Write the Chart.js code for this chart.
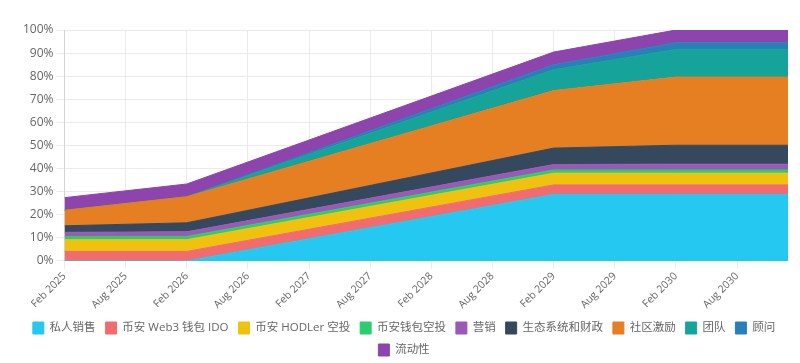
<!DOCTYPE html>
<html>
<head>
<meta charset="utf-8">
<script src="https://cdn.jsdelivr.net/npm/chart.js@4"></script>
<style>
  html, body { margin: 0; padding: 0; background: #fff; }
  #wrap { width: 800px; height: 363px; }
</style>
</head>
<body>
<div id="wrap"><canvas id="unlockChart"></canvas></div>
<script>
  // months since Feb 2025 where the schedule changes slope
  const months = [0, 12, 48, 60, 71];
  const tickLabels = ['Feb 2025', 'Aug 2025', 'Feb 2026', 'Aug 2026', 'Feb 2027', 'Aug 2027',
    'Feb 2028', 'Aug 2028', 'Feb 2029', 'Aug 2029', 'Feb 2030', 'Aug 2030'];

  // cumulative unlocked share (%) per allocation
  const privateSale = [0, 0, 28.8, 28.8, 28.8];
  const web3Ido = [4.1, 4.1, 4.1, 4.1, 4.1];
  const hodlerAirdrop = [5.1, 5.1, 5.1, 5.1, 5.1];
  const walletAirdrop = [1.4, 1.4, 1.4, 1.4, 1.4];
  const marketing = [1.8, 2.0, 2.35, 2.5, 2.5];
  const ecosystem = [2.8, 3.9, 7.1, 8.2, 8.2];
  const community = [6.7, 11.3, 24.9, 29.5, 29.5];
  const team = [0, 0, 9, 12, 12];
  const advisors = [0, 0, 2.2, 2.9, 2.9];
  const liquidity = [5.5, 5.5, 5.5, 5.5, 5.5];

  const series = [
    { label: '私人销售', values: privateSale, color: '#24C8F0' },
    { label: '币安 Web3 钱包 IDO', values: web3Ido, color: '#F26B6F' },
    { label: '币安 HODLer 空投', values: hodlerAirdrop, color: '#EEC20F' },
    { label: '币安钱包空投', values: walletAirdrop, color: '#2ECC71' },
    { label: '营销', values: marketing, color: '#9B59B6' },
    { label: '生态系统和财政', values: ecosystem, color: '#34495E' },
    { label: '社区激励', values: community, color: '#E67E22' },
    { label: '团队', values: team, color: '#16A39A' },
    { label: '顾问', values: advisors, color: '#2980B9' },
    { label: '流动性', values: liquidity, color: '#8E44AD' }
  ];

  const family = '"Open Sans", "Noto Sans CJK SC", sans-serif';

  let ctx = document.getElementById('unlockChart').getContext('2d');
  let unlockChart = new Chart(ctx, {
    type: 'line',
    data: {
      datasets: series.map((s, i) => ({
        label: s.label,
        data: s.values.map((v, j) => ({ x: months[j], y: v })),
        backgroundColor: s.color,
        borderColor: s.color,
        borderWidth: 1,
        pointRadius: 0,
        tension: 0,
        fill: i === 0 ? 'origin' : '-1'
      }))
    },
    options: {
      animation: false,
      responsive: true,
      maintainAspectRatio: false,
      layout: { padding: { top: 30, left: 20, right: 12, bottom: -3 } },
      scales: {
        x: {
          type: 'linear',
          min: 0,
          max: 71,
          grid: { color: '#ebebeb' },
          ticks: {
            stepSize: 6,
            includeBounds: false,
            minRotation: 45,
            maxRotation: 45,
            padding: 1,
            color: '#666',
            font: { family: family, size: 10.5 },
            callback: v => tickLabels[v / 6]
          }
        },
        y: {
          stacked: true,
          min: 0,
          max: 100,
          grid: { color: '#ebebeb' },
          ticks: {
            stepSize: 10,
            color: '#666',
            font: { family: family, size: 12 },
            callback: v => v + '%'
          }
        }
      },
      plugins: {
        tooltip: { enabled: false },
        legend: {
          position: 'bottom',
          labels: {
            boxWidth: 11,
            boxHeight: 12,
            color: '#666',
            font: { family: family, size: 11.5 }
          }
        }
      }
    }
  });
</script>
</body>
</html>
